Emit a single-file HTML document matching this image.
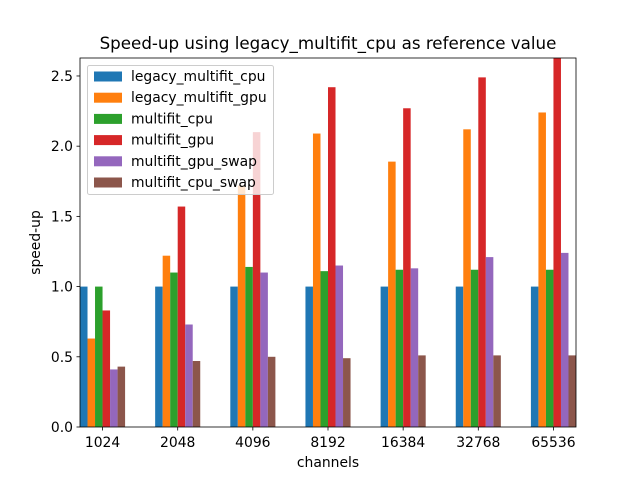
<!DOCTYPE html>
<html><head><meta charset="utf-8"><style>
body{margin:0;background:#fff;font-family:"Liberation Sans","DejaVu Sans",sans-serif;}
svg text{font-family:"DejaVu Sans","Liberation Sans",sans-serif;}
</style></head><body>
<svg id="c" width="640" height="480" viewBox="0 0 640 480" xmlns="http://www.w3.org/2000/svg">
<rect width="640" height="480" fill="#fff"/>
<text x="328" y="49" font-size="16.7" text-anchor="middle">Speed-up using legacy_multifit_cpu as reference value</text>
<g id="bars"></g>
<g id="axes"></g>
<g id="legend"></g>
</svg>
<script>
const categories = ["1024","2048","4096","8192","16384","32768","65536"];
const seriesNames = ["legacy_multifit_cpu","legacy_multifit_gpu","multifit_cpu","multifit_gpu","multifit_gpu_swap","multifit_cpu_swap"];
const legacyCpu = [1.0,1.0,1.0,1.0,1.0,1.0,1.0];
const legacyGpu = [0.63,1.22,1.72,2.09,1.89,2.12,2.24];
const multifitCpu = [1.0,1.10,1.14,1.11,1.12,1.12,1.12];
const multifitGpu = [0.83,1.57,2.10,2.42,2.27,2.49,2.70];
const multifitGpuSwap = [0.41,0.73,1.10,1.15,1.13,1.21,1.24];
const multifitCpuSwap = [0.43,0.47,0.50,0.49,0.51,0.51,0.51];
const yTicks = [0.0,0.5,1.0,1.5,2.0,2.5];
const yTickLabels = ["0.0","0.5","1.0","1.5","2.0","2.5"];

const series = [legacyCpu,legacyGpu,multifitCpu,multifitGpu,multifitGpuSwap,multifitCpuSwap];
const colors = ["#1f77b4","#ff7f0e","#2ca02c","#d62728","#9467bd","#8c564b"];
const L=80,R=576,T=58,B=427, yMax=2.628, xMin=-0.3, xMax=categories.length-1+0.3, bw=0.1;
const xs = v => L+(v-xMin)/(xMax-xMin)*(R-L);
const ys = v => B-v/yMax*(B-T);
const NS="http://www.w3.org/2000/svg";
function mk(tag,attrs,parent,txt){const e=document.createElementNS(NS,tag);for(const k in attrs)e.setAttribute(k,attrs[k]);if(txt!==undefined)e.textContent=txt;parent.appendChild(e);return e;}
const bars=document.getElementById('bars'), axes=document.getElementById('axes'), lg=document.getElementById('legend');
mk('clipPath',{id:'clip'},bars);
mk('rect',{x:L,y:T,width:R-L,height:B-T},bars.lastChild);
bars.setAttribute('clip-path','url(#clip)');
series.forEach((s,k)=>{
  s.forEach((v,i)=>{
    const x0=xs(i+(k-3)*bw), x1=xs(i+(k-2)*bw);
    const r=mk('rect',{x:x0,y:ys(v),width:x1-x0,height:ys(0)-ys(v),fill:colors[k]},bars);
    
    
  });
});
mk('rect',{x:L,y:T,width:R-L,height:B-T,fill:'none',stroke:'#000','stroke-width':0.8},axes);
yTicks.forEach((t,i)=>{
  const y=ys(t);
  mk('line',{x1:L-3.5,x2:L,y1:y,y2:y,stroke:'#000','stroke-width':0.8},axes);
  const tx=mk('text',{x:L-7,y:y+5,'font-size':13.9,'text-anchor':'end'},axes,yTickLabels[i]);
  
  
});
categories.forEach((c,i)=>{
  const x=xs(i);
  mk('line',{x1:x,x2:x,y1:B,y2:B+3.5,stroke:'#000','stroke-width':0.8},axes);
  const tx=mk('text',{x:x,y:B+20,'font-size':13.9,'text-anchor':'middle'},axes,c);
  
  
});
const xt=mk('text',{x:(L+R)/2,y:467,'font-size':13.9,'text-anchor':'middle'},axes,'channels');


const yt=mk('text',{x:0,y:0,'font-size':13.9,'text-anchor':'middle',transform:'translate(40,'+((T+B)/2)+') rotate(-90)'},axes,'speed-up');


const box=mk('rect',{x:87.5,y:65.5,width:186,height:129,rx:2,fill:'#fff','fill-opacity':0.8,stroke:'#ccc','stroke-width':1},lg);


seriesNames.forEach((n,k)=>{
  const y=76+k*21.2;
  const p=mk('rect',{x:94,y:y-4.5,width:28,height:10,fill:colors[k]},lg);
  
  
  const t=mk('text',{x:131,y:y+5,'font-size':13.9},lg,n);
  
  
});
</script>
</body></html>
